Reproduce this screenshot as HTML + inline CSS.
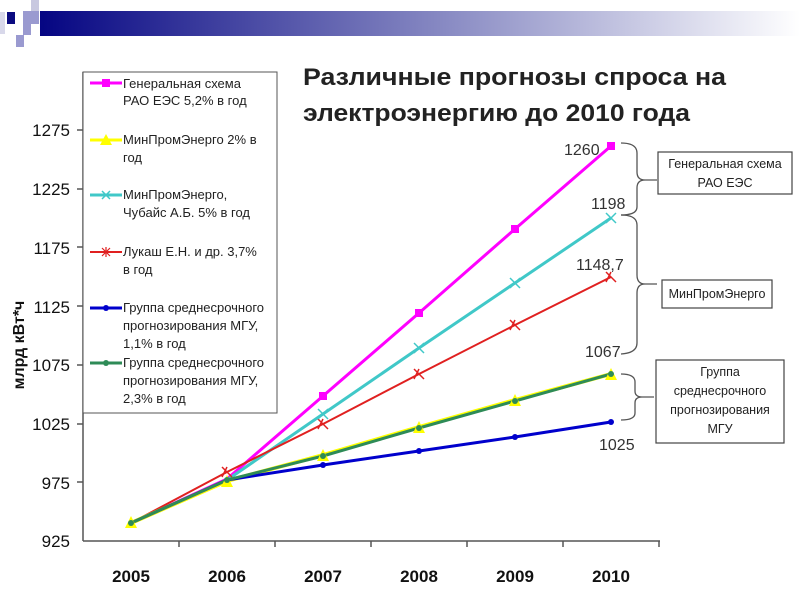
<!DOCTYPE html>
<html><head><meta charset="utf-8"><style>
body{margin:0;background:#fff;}
svg{display:block;font-family:"Liberation Sans","DejaVu Sans",sans-serif;}
</style></head><body>
<svg width="800" height="600" viewBox="0 0 800 600" xmlns="http://www.w3.org/2000/svg">
<defs>
<linearGradient id="g" x1="0" x2="1"><stop offset="0" stop-color="#000080"/><stop offset="0.55" stop-color="#8a8cc4"/><stop offset="1" stop-color="#ffffff"/></linearGradient>
</defs>
<rect x="24" y="11" width="776" height="25" fill="url(#g)"/>
<rect x="0" y="0" width="40" height="45" fill="#fff"/>
<rect x="31" y="0" width="8" height="12" fill="#c8c8e0"/>
<rect x="7" y="12" width="8" height="12" fill="#0a0a80"/>
<rect x="23" y="11" width="16" height="13" fill="#9a9ad0"/>
<rect x="23" y="24" width="8" height="11" fill="#9a9ad0"/>
<rect x="16" y="35" width="8" height="12" fill="#9a9ad0"/>
<rect x="0" y="12" width="5" height="22" fill="#d8d8ea"/>

<text x="303" y="85" font-size="24" font-weight="bold" fill="#222" textLength="423" lengthAdjust="spacingAndGlyphs">Различные прогнозы спроса на</text>
<text x="303" y="121" font-size="24" font-weight="bold" fill="#222" textLength="387" lengthAdjust="spacingAndGlyphs">электроэнергию до 2010 года</text>

<!-- axes -->
<line x1="83" y1="72" x2="83" y2="541" stroke="#555" stroke-width="1.5"/>
<line x1="83" y1="541" x2="660" y2="541" stroke="#555" stroke-width="1.5"/>
<g stroke="#555" stroke-width="1.5">
<line x1="77" y1="130" x2="83" y2="130"/><line x1="77" y1="189" x2="83" y2="189"/><line x1="77" y1="247" x2="83" y2="247"/><line x1="77" y1="306" x2="83" y2="306"/><line x1="77" y1="365" x2="83" y2="365"/><line x1="77" y1="424" x2="83" y2="424"/><line x1="77" y1="482" x2="83" y2="482"/>
<line x1="179" y1="541" x2="179" y2="547"/><line x1="275" y1="541" x2="275" y2="547"/><line x1="371" y1="541" x2="371" y2="547"/><line x1="467" y1="541" x2="467" y2="547"/><line x1="563" y1="541" x2="563" y2="547"/><line x1="659" y1="541" x2="659" y2="547"/>
</g>
<g font-size="17" fill="#111" text-anchor="end">
<text x="70" y="136">1275</text><text x="70" y="195">1225</text><text x="70" y="254">1175</text><text x="70" y="313">1125</text><text x="70" y="371">1075</text><text x="70" y="430">1025</text><text x="70" y="489">975</text><text x="70" y="547">925</text>
</g>
<g font-size="17" fill="#111" text-anchor="middle" font-weight="bold">
<text x="131" y="582">2005</text><text x="227" y="582">2006</text><text x="323" y="582">2007</text><text x="419" y="582">2008</text><text x="515" y="582">2009</text><text x="611" y="582">2010</text>
</g>
<text transform="translate(24,345) rotate(-90)" font-size="16" font-weight="bold" text-anchor="middle" fill="#111">млрд кВт*ч</text>

<!-- series -->
<polyline points="131,523 227,479 323,396 419,313 515,229 611,146" fill="none" stroke="#ff00ff" stroke-width="3"/>
<polyline points="131,523 227,480 323,414 419,348 515,283 611,218" fill="none" stroke="#40c8c8" stroke-width="3"/>
<polyline points="131,523 227,472 323,424 419,374 515,325 611,277" fill="none" stroke="#e02020" stroke-width="2"/>
<polyline points="131,523 227,481 323,455 419,427 515,400 611,374" fill="none" stroke="#ffff00" stroke-width="4"/>
<polyline points="131,523 227,480 323,465 419,451 515,437 611,422" fill="none" stroke="#0000cc" stroke-width="3"/>
<polyline points="131,523 227,480 323,456 419,428 515,401 611,374" fill="none" stroke="#2e8b57" stroke-width="3"/>
<g fill="#ff00ff"><rect x="319" y="392" width="8" height="8"/><rect x="415" y="309" width="8" height="8"/><rect x="511" y="225" width="8" height="8"/><rect x="607" y="142" width="8" height="8"/></g>
<g fill="#ffff00"><polygon points="131,516 125,528 137,528"/><polygon points="227,475 221,487 233,487"/><polygon points="323,449 317,461 329,461"/><polygon points="419,421 413,433 425,433"/><polygon points="515,394 509,406 521,406"/><polygon points="611,368 605,380 617,380"/></g>
<g stroke="#e02020" stroke-width="1.5"><path d="M323 419l-5 10M318 419l10 10M419 369l-5 10M414 369l10 10M515 320l-5 10M510 320l10 10M611 272l-5 10M606 272l10 10M227 467l-5 10M222 467l10 10"/></g>
<g stroke="#40c8c8" stroke-width="1.5"><path d="M414 343l10 10M424 343l-10 10M510 278l10 10M520 278l-10 10M606 213l10 10M616 213l-10 10M318 409l10 10M328 409l-10 10"/></g>
<g fill="#0000cc"><circle cx="323" cy="465" r="3"/><circle cx="419" cy="451" r="3"/><circle cx="515" cy="437" r="3"/><circle cx="611" cy="422" r="3"/></g>
<g fill="#2e8b57"><circle cx="227" cy="480" r="3"/><circle cx="323" cy="456" r="3"/><circle cx="419" cy="428" r="3"/><circle cx="515" cy="401" r="3"/><circle cx="611" cy="374" r="3"/><circle cx="131" cy="523" r="3"/></g>

<!-- value labels -->
<g font-size="16" fill="#333">
<text x="564" y="155">1260</text><text x="591" y="209">1198</text><text x="576" y="270">1148,7</text><text x="585" y="357">1067</text><text x="599" y="450">1025</text>
</g>

<!-- legend -->
<rect x="83" y="72" width="194" height="341" fill="#fff" stroke="#555" stroke-width="1"/>
<g font-size="13" fill="#222">
<line x1="90" y1="83" x2="122" y2="83" stroke="#ff00ff" stroke-width="3"/><rect x="102" y="79" width="8" height="8" fill="#ff00ff"/>
<text x="123" y="88">Генеральная схема</text><text x="123" y="105">РАО ЕЭС 5,2% в год</text>
<line x1="90" y1="140" x2="122" y2="140" stroke="#ffff00" stroke-width="3"/><polygon points="106,134 100,145 112,145" fill="#ffff00"/>
<text x="123" y="144">МинПромЭнерго 2% в</text><text x="123" y="162">год</text>
<line x1="90" y1="195" x2="122" y2="195" stroke="#40c8c8" stroke-width="3"/><path d="M102 191l8 8M110 191l-8 8" stroke="#40c8c8" stroke-width="1.5"/>
<text x="123" y="199">МинПромЭнерго,</text><text x="123" y="217">Чубайс А.Б. 5% в год</text>
<line x1="90" y1="252" x2="122" y2="252" stroke="#e02020" stroke-width="2"/><path d="M102 248l8 8M110 248l-8 8M106 247v10" stroke="#e02020" stroke-width="1.2"/>
<text x="123" y="256">Лукаш Е.Н. и др. 3,7%</text><text x="123" y="274">в год</text>
<line x1="90" y1="308" x2="122" y2="308" stroke="#0000cc" stroke-width="3"/><circle cx="106" cy="308" r="3" fill="#0000cc"/>
<text x="123" y="312">Группа среднесрочного</text><text x="123" y="330">прогнозирования МГУ,</text><text x="123" y="348">1,1% в год</text>
<line x1="90" y1="363" x2="122" y2="363" stroke="#2e8b57" stroke-width="3"/><circle cx="106" cy="363" r="3" fill="#2e8b57"/>
<text x="123" y="367">Группа среднесрочного</text><text x="123" y="385">прогнозирования МГУ,</text><text x="123" y="403">2,3% в год</text>
</g>

<!-- braces -->
<g fill="none" stroke="#555" stroke-width="1.3">
<path d="M621 143 q16 0 16 10 v19 q0 8 8 8 h12 M645 180 q-8 0 -8 8 v19 q0 8 -16 8"/>
<path d="M621 215 q16 0 16 10 v50 q0 9 8 9 h12 M645 284 q-8 0 -8 9 v50 q0 10 -16 11"/>
<path d="M621 374 q14 0 14 8 v9 q0 6 7 6 h12 M642 397 q-7 0 -7 6 v10 q0 7 -14 7"/>
</g>
<g fill="#fff" stroke="#444" stroke-width="1.2">
<rect x="658" y="152" width="134" height="42"/>
<rect x="662" y="280" width="110" height="28"/>
<rect x="656" y="360" width="128" height="83"/>
</g>
<g font-size="12.5" fill="#222" text-anchor="middle">
<text x="725" y="168">Генеральная схема</text><text x="725" y="187">РАО ЕЭС</text>
<text x="717" y="298">МинПромЭнерго</text>
<text x="720" y="376">Группа</text><text x="720" y="395">среднесрочного</text><text x="720" y="414">прогнозирования</text><text x="720" y="433">МГУ</text>
</g>
</svg>
</body></html>
